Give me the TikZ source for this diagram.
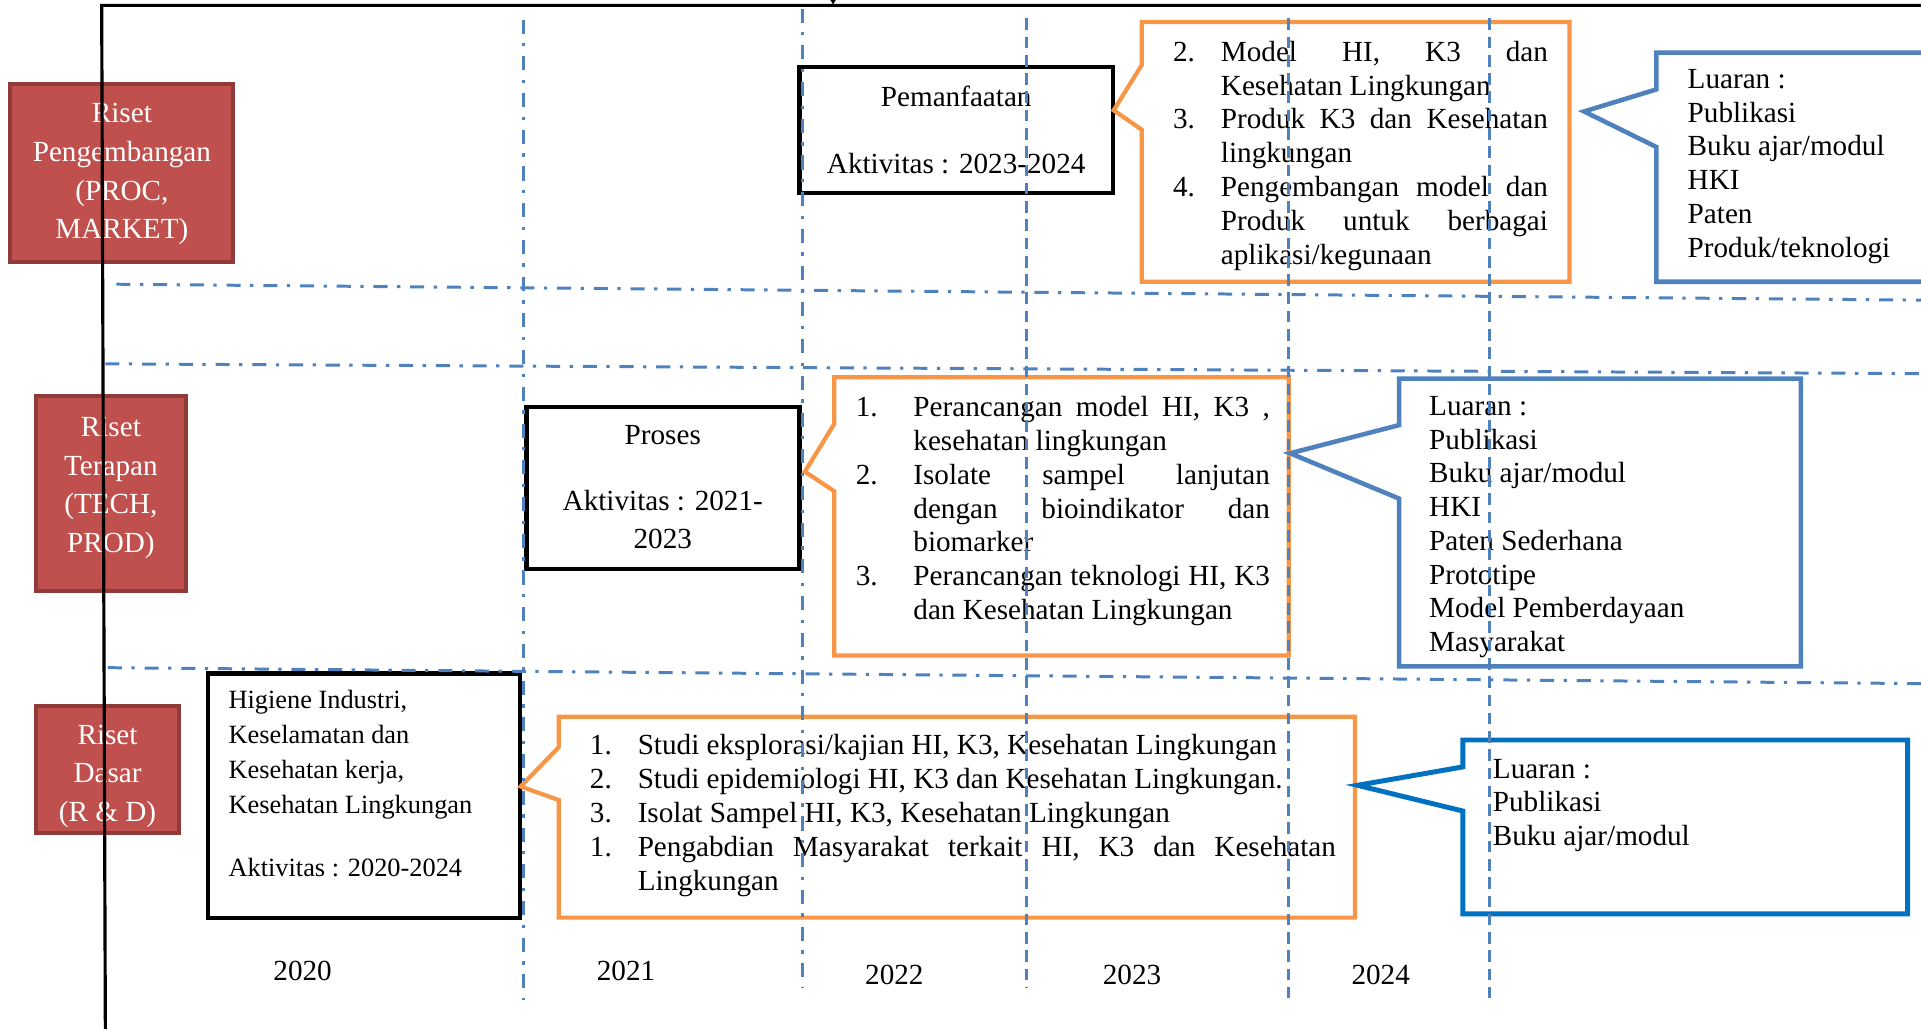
\documentclass[tikz,border=0pt]{standalone}
\usepackage{fontspec}
\setmainfont{Liberation Serif}
\usetikzlibrary{arrows.meta}

\definecolor{gridblue}{HTML}{4F81BD}
\definecolor{calloutorange}{HTML}{F79646}
\definecolor{rowred}{HTML}{C0504D}
\definecolor{rowredline}{HTML}{8E3B39}
\definecolor{outputblue}{HTML}{0070C0}

% hanging numbered line for the list callouts
\newlength\numw
\newcommand{\numitem}[2]{\noindent\hangindent=\numw\hangafter=1\makebox[\numw][l]{#1}#2\par}

\tikzset{
    rowbox/.style={draw=rowredline, fill=rowred, line width=1.1pt, inner sep=0pt},
    rowtext/.style={anchor=north, align=center, inner sep=0pt, text=white,
        font=\fontsize{8.3}{11}\selectfont},
    stagebox/.style={draw=black, line width=1.3pt, inner sep=0pt},
    stagetext/.style={anchor=north, align=center, inner sep=0pt,
        font=\fontsize{8.3}{10.8}\selectfont},
    listtext/.style={anchor=north west, align=justify, inner sep=0pt,
        font={\fontsize{8.3}{9.62}\selectfont\hyphenpenalty=10000 \tolerance=9999 }},
    outtext/.style={anchor=north west, align=left, inner sep=0pt,
        font=\fontsize{8.3}{9.6}\selectfont},
    yeartext/.style={anchor=base, inner sep=0pt, font=\fontsize{8.3}{9.6}\selectfont},
    calloutline/.style={draw=calloutorange, line width=1.2pt, line join=miter},
    outputline/.style={draw=gridblue, line width=1.3pt, line join=miter},
    gridvert/.style={draw=gridblue, line width=0.85pt, dash pattern=on 3.3pt off 1.9pt},
    gridvertdot/.style={draw=gridblue, line width=0.85pt, dash pattern=on 4pt off 2.7pt on 0.95pt off 2.8pt},
    gridhoriz/.style={draw=gridblue, line width=0.85pt, dash pattern=on 4pt off 2.7pt on 0.95pt off 2.8pt},
}

\begin{document}
\begin{tikzpicture}[x=0.01225cm, y=-0.01225cm]

    % --- Canvas ---
    \useasboundingbox (0,0) rectangle (1568,840);

    % --- Row labels ---
    % Red boxes on the left for the three research levels
    \node[rowbox, minimum width=2.23cm, minimum height=1.78cm] (rdev) at (99.5,141) {};
    \node[rowtext] (rdevtext) at (99.5,84) {Riset\\Pengembangan\\(PROC,\\MARKET)};
    \node[rowbox, minimum width=1.5cm, minimum height=1.95cm] (rapp) at (90.5,403) {};
    \node[rowtext] (rapptext) at (90.5,340) {Riset\\Terapan\\(TECH,\\PROD)};
    \node[rowbox, minimum width=1.43cm, minimum height=1.27cm] (rbasic) at (87.8,628) {};
    \node[rowtext] (rbasictext) at (87.8,591) {Riset\\Dasar\\(R \& D)};

    % --- Stage boxes ---
    % Black boxes with the activity period of each stage
    \node[stagebox, minimum width=3.14cm, minimum height=1.26cm] (pemanfaatan) at (780.5,106) {};
    \node[stagetext] (pemanfaatantext) at (780.5,70) {Pemanfaatan\\[8pt]Aktivitas : 2023-2024};

    \node[stagebox, minimum width=2.73cm, minimum height=1.62cm] (proses) at (541,398.5) {};
    \node[stagetext] (prosestext) at (541,347) {Proses\\[8pt]Aktivitas : 2021-\\2023};

    \node[stagebox, minimum width=3.12cm, minimum height=2.45cm] (higiene) at (297,649.5) {};
    \node[anchor=north west, align=left, inner sep=0pt, font=\fontsize{7.5}{9.97}\selectfont] (higienetext) at (186,563)
        {Higiene Industri,\\Keselamatan dan\\Kesehatan kerja,\\Kesehatan Lingkungan\\[7.8pt]Aktivitas : 2020-2024};

    % --- Activity callouts ---
    % Orange boxes, the notch points back at the stage box
    \coordinate (tipdev) at (909,90);
    \coordinate (tipapp) at (657,385);
    \coordinate (tipbasic) at (425,642);
    \draw[calloutline] (932,53) -- (932,18) -- (1281,18) -- (1281,230) -- (932,230) -- (932,106) -- (tipdev) -- cycle;
    \draw[calloutline] (681,346) -- (681,308) -- (1052,308) -- (1052,535) -- (681,535) -- (681,401) -- (tipapp) -- cycle;
    \draw[calloutline] (456,610) -- (456,585) -- (1106,585) -- (1106,749) -- (456,749) -- (456,653) -- (tipbasic) -- cycle;

    \node[listtext, text width=3.749cm] (devlist) at (957,33) {\setlength\numw{0.478cm}%
        \numitem{2.}{Model HI, K3 dan\linebreak Kesehatan Lingkungan}%
        \numitem{3.}{Produk K3 dan Kesehatan\linebreak lingkungan}%
        \numitem{4.}{Pengembangan model dan\linebreak Produk untuk berbagai\linebreak aplikasi/kegunaan}};
    \node[listtext, text width=4.141cm] (applist) at (698,323) {\setlength\numw{0.576cm}%
        \numitem{1.}{Perancangan model HI, K3 ,\linebreak kesehatan lingkungan}%
        \numitem{2.}{Isolate sampel lanjutan\linebreak dengan bioindikator dan\linebreak biomarker}%
        \numitem{3.}{Perancangan teknologi HI, K3\linebreak dan Kesehatan Lingkungan}};
    \node[listtext, text width=7.46cm] (basiclist) at (481,599) {\setlength\numw{0.478cm}%
        \numitem{1.}{Studi eksplorasi/kajian HI, K3, Kesehatan Lingkungan}%
        \numitem{2.}{Studi epidemiologi HI, K3 dan Kesehatan Lingkungan.}%
        \numitem{3.}{Isolat Sampel HI, K3, Kesehatan Lingkungan}%
        \numitem{1.}{Pengabdian Masyarakat terkait HI, K3 dan Kesehatan\linebreak Lingkungan}};

    % --- Output callouts ---
    % Blue boxes listing the outputs of each level
    \coordinate (tipdevout) at (1293,91);
    \coordinate (tipappout) at (1053,370);
    \coordinate (tipbasicout) at (1108,641);
    \draw[outputline] (1352,73) -- (1352,43) -- (1600,43) -- (1600,230) -- (1352,230) -- (1352,120) -- (tipdevout) -- cycle;
    \draw[outputline] (1142,347) -- (1142,309) -- (1470,309) -- (1470,544) -- (1142,544) -- (1142,407) -- (tipappout) -- cycle;
    \draw[outputline, draw=outputblue, line width=1.4pt] (1194,626) -- (1194,604) -- (1557,604) -- (1557,746) -- (1194,746) -- (1194,662) -- (tipbasicout) -- cycle;

    \node[outtext] (devout) at (1377,56) {Luaran :\\Publikasi\\Buku ajar/modul\\HKI\\Paten\\Produk/teknologi};
    \node[outtext] (appout) at (1166,323) {Luaran :\\Publikasi\\Buku ajar/modul\\HKI\\Paten Sederhana\\Prototipe\\Model Pemberdayaan\\Masyarakat};
    \node[outtext] (basicout) at (1218,619) {Luaran :\\Publikasi\\Buku ajar/modul};

    % --- Years ---
    \node[yeartext] (y2020) at (247,800) {2020};
    \node[yeartext] (y2021) at (511,800) {2021};
    \node[yeartext] (y2022) at (730,804) {2022};
    \node[yeartext] (y2023) at (924,804) {2023};
    \node[yeartext] (y2024) at (1127,804) {2024};

    % --- Grid ---
    % Year columns and row separators
    \draw[gridvertdot] (427,16) -- (427,816);
    \draw[gridvertdot] (655,7) -- (655,806);
    \draw[gridvert] (838,15) -- (838,806);
    \draw[gridvert] (1052,15) -- (1052,816);
    \draw[gridvert] (1216,15) -- (1216,817);
    \draw[gridhoriz] (95,232) -- (1568,245);
    \draw[gridhoriz] (86,297) -- (1568,305);
    \draw[gridhoriz] (88,545) -- (1568,558);

    % --- Frame ---
    \draw[line width=0.9pt] (1568,4.4) -- (83,4.4) -- (86,840);
    \draw[-{Latex[length=2.4pt,width=3.4pt]}, line width=0.5pt] (680,-10) -- (680,4);

\end{tikzpicture}
\end{document}
